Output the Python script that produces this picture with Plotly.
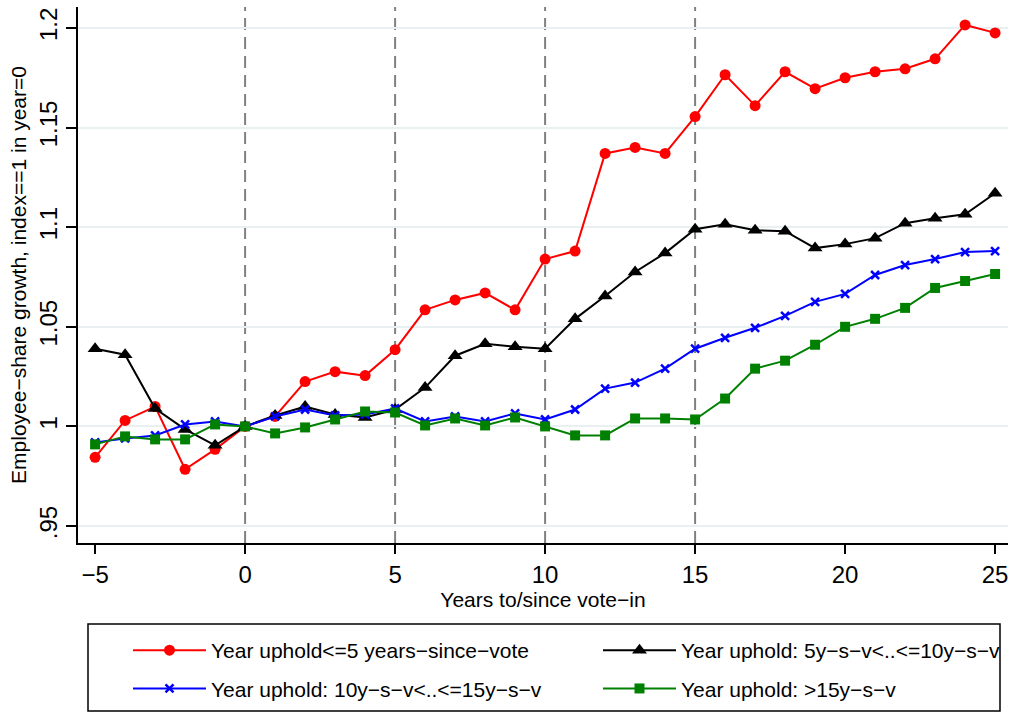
import plotly.graph_objects as go

years = list(range(-5, 26))

red = [0.9845, 1.003, 1.010, 0.9785, 0.9885, 1.0, 1.005, 1.0225, 1.0275, 1.0255, 1.0385,
       1.0585, 1.0635, 1.067, 1.0585, 1.084, 1.088, 1.137, 1.140, 1.137, 1.1555,
       1.1765, 1.161, 1.178, 1.1695, 1.175, 1.178, 1.1795, 1.1845, 1.2015, 1.1975]
black = [1.039, 1.036, 1.009, 0.9985, 0.9905, 1.0, 1.0055, 1.010, 1.006, 1.0045, 1.0085,
         1.0195, 1.0355, 1.0415, 1.040, 1.039, 1.054, 1.0655, 1.0775, 1.087, 1.099,
         1.1015, 1.0985, 1.098, 1.0895, 1.0915, 1.0945, 1.102, 1.1045, 1.1065, 1.117]
blue = [0.992, 0.994, 0.9955, 1.001, 1.0025, 1.0, 1.005, 1.0085, 1.0055, 1.006, 1.009,
        1.0025, 1.005, 1.0025, 1.0065, 1.0035, 1.0085, 1.019, 1.022, 1.029, 1.039,
        1.0445, 1.0495, 1.0555, 1.0625, 1.0665, 1.076, 1.081, 1.084, 1.0875, 1.088]
green = [0.991, 0.995, 0.9935, 0.9935, 1.001, 1.0, 0.9965, 0.9995, 1.0035, 1.0075, 1.007,
         1.0005, 1.004, 1.0005, 1.0045, 1.0, 0.9955, 0.9955, 1.004, 1.004, 1.0035,
         1.014, 1.029, 1.033, 1.041, 1.05, 1.054, 1.0595, 1.0695, 1.073, 1.0765]

names = ["Year uphold<=5 years\u2212since\u2212vote",
         "Year uphold: 5y\u2212s\u2212v<..<=10y\u2212s\u2212v",
         "Year uphold: 10y\u2212s\u2212v<..<=15y\u2212s\u2212v",
         "Year uphold: >15y\u2212s\u2212v"]
colors = ["#ff0000", "#000000", "#0000ff", "#008000"]
symbols = ["circle", "triangle-up", "x-thin", "square"]
sizes = [11, 13, 8, 10]
legend_of = ["legend", "legend2", "legend", "legend2"]

vlines = [0, 5, 10, 15]
yticks = [0.95, 1.0, 1.05, 1.1, 1.15, 1.2]
yticklabels = [".95", "1", "1.05", "1.1", "1.15", "1.2"]
xticks = [-5, 0, 5, 10, 15, 20, 25]

FONT = "Liberation Sans, Arial, sans-serif"
W, H = 1012, 712
L, R, T, B = 78, 4, 7, 169
PW, PH = W - L - R, H - T - B


def px_x(px):
    return (px - L) / PW


def px_y(py):
    return (H - B - py) / PH


fig = go.Figure()
for i, (ys, nm, c, s, sz, lg) in enumerate(zip([red, black, blue, green], names, colors,
                                              symbols, sizes, legend_of)):
    fig.add_trace(go.Scatter(
        x=years, y=ys, name=nm, mode="lines+markers", legend=lg,
        legendgroup=str(i),
        line=dict(color=c, width=2),
        marker=dict(symbol=s, size=sz, color=c,
                    line=dict(color=c, width=2.5 if s == "x-thin" else 0)),
    ))

for v in vlines:
    fig.add_vline(x=v, line=dict(color="#808080", width=2, dash="12px,7px"), layer="below")

# legend frame
fig.add_shape(type="rect", xref="paper", yref="paper",
              x0=px_x(88), x1=px_x(1000), y0=px_y(711), y1=px_y(624),
              line=dict(color="black", width=1.5), fillcolor="rgba(0,0,0,0)")

leg_common = dict(
    orientation="v", yanchor="top", xanchor="left",
    bgcolor="rgba(0,0,0,0)", borderwidth=0,
    font=dict(size=21, family=FONT, color="black"),
    itemwidth=73, tracegroupgap=8,
)

fig.update_layout(
    width=W, height=H,
    margin=dict(l=L, r=R, t=T, b=B, autoexpand=False),
    paper_bgcolor="white", plot_bgcolor="white",
    font=dict(family=FONT, color="black"),
    showlegend=True,
    legend=dict(x=px_x(128), y=px_y(630), **leg_common),
    legend2=dict(x=px_x(598), y=px_y(630), **leg_common),
    xaxis=dict(
        range=[-5.57, 25.43], tickvals=xticks,
        showgrid=False, zeroline=False, automargin=False,
        showline=True, linecolor="black", linewidth=1.5,
        ticks="outside", ticklen=9, tickcolor="black", tickwidth=1.5,
        tickfont=dict(size=24, family=FONT),
        title=dict(text="Years to/since vote\u2212in", font=dict(size=21, family=FONT), standoff=0),
    ),
    yaxis=dict(
        range=[0.9415, 1.2105], tickvals=yticks, ticktext=yticklabels,
        tickangle=-90, automargin=False,
        showgrid=True, gridcolor="#e8f0f2", gridwidth=2,
        zeroline=False,
        showline=True, linecolor="black", linewidth=1.5,
        ticks="outside", ticklen=10, tickcolor="black", tickwidth=1.5,
        tickfont=dict(size=24, family=FONT),
        title=dict(text="Employee\u2212share growth, index==1 in year=0",
                   font=dict(size=21, family=FONT), standoff=2),
    ),
)

fig.write_html("out.html", config={"displayModeBar": False},
               post_script="document.body.style.margin='0px';")
